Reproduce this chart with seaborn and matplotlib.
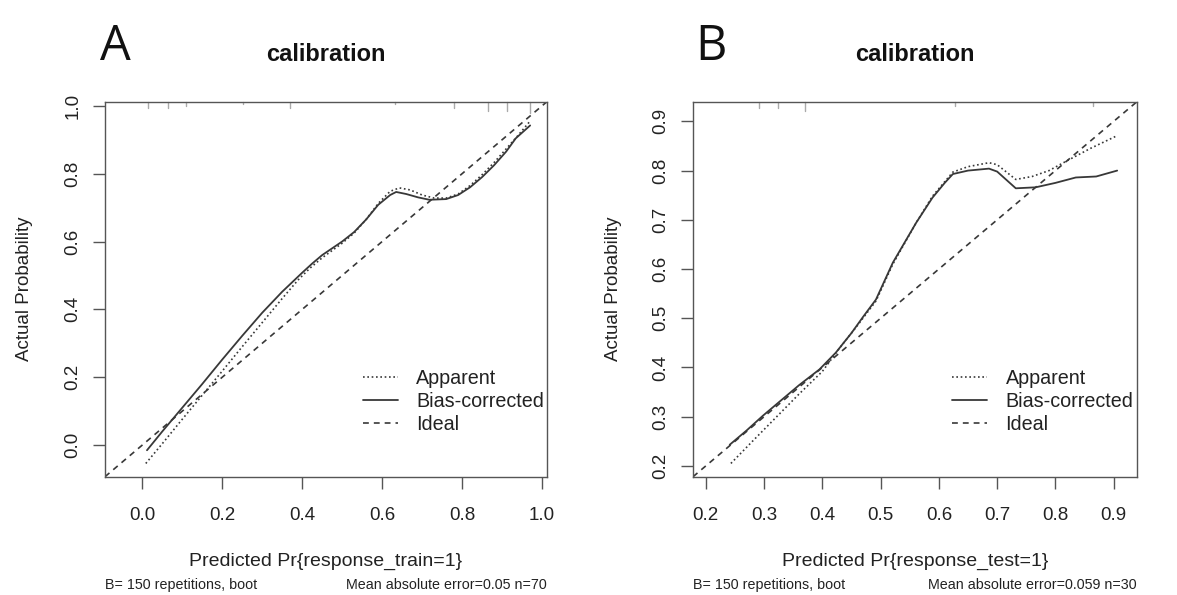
import numpy as np
import pandas as pd
import matplotlib
matplotlib.use("Agg")
import matplotlib.pyplot as plt
import seaborn as sns
from matplotlib.lines import Line2D

# ---------------- data ----------------
# Panel A (training set)
a_bias_x = [0.012, 0.05, 0.10, 0.15, 0.20, 0.25, 0.30, 0.35, 0.375, 0.40, 0.425, 0.45, 0.475, 0.50, 0.53,
            0.56, 0.59, 0.62, 0.635, 0.66, 0.69, 0.718, 0.76, 0.79, 0.82, 0.85, 0.88, 0.91, 0.934, 0.97]
a_bias_y = [-0.015, 0.04, 0.11, 0.18, 0.252, 0.322, 0.39, 0.452, 0.48, 0.508, 0.535, 0.56, 0.58, 0.60, 0.628,
            0.665, 0.708, 0.737, 0.746, 0.740, 0.730, 0.723, 0.725, 0.737, 0.760, 0.790, 0.825, 0.865, 0.904, 0.942]
a_app_x = [0.009, 0.05, 0.10, 0.15, 0.20, 0.25, 0.30, 0.35, 0.39, 0.42, 0.45, 0.50, 0.53, 0.56, 0.59, 0.62,
           0.643, 0.67, 0.70, 0.73, 0.76, 0.79, 0.82, 0.85, 0.88, 0.91, 0.94, 0.97]
a_app_y = [-0.054, 0.004, 0.076, 0.147, 0.218, 0.29, 0.361, 0.432, 0.487, 0.522, 0.552, 0.595, 0.625, 0.665,
           0.712, 0.748, 0.758, 0.752, 0.737, 0.728, 0.728, 0.740, 0.765, 0.797, 0.833, 0.873, 0.913, 0.955]
a_rug_x = [0.014, 0.064, 0.110, 0.253, 0.369, 0.633, 0.779, 0.864, 0.911, 0.969]
a_rug_n = [3, 3, 2, 1, 3, 1, 3, 4, 4, 5]
a_lim = (-0.093, 1.012)
a_ticks = [0.0, 0.2, 0.4, 0.6, 0.8, 1.0]
a_xlabel = "Predicted Pr{response_train=1}"
a_sub_left = "B= 150 repetitions, boot"
a_sub_right = "Mean absolute error=0.05 n=70"

# Panel B (test set)
b_bias_x = [0.241, 0.27, 0.298, 0.33, 0.36, 0.395, 0.423, 0.45, 0.47, 0.492, 0.521, 0.561, 0.589, 0.61,
            0.624, 0.65, 0.686, 0.70, 0.732, 0.766, 0.80, 0.835, 0.87, 0.906]
b_bias_y = [0.243, 0.272, 0.302, 0.334, 0.364, 0.396, 0.43, 0.47, 0.503, 0.538, 0.613, 0.694, 0.745, 0.775,
            0.793, 0.800, 0.804, 0.798, 0.764, 0.766, 0.775, 0.786, 0.788, 0.800]
b_app_x = [0.243, 0.28, 0.32, 0.36, 0.40, 0.43, 0.46, 0.492, 0.521, 0.561, 0.589, 0.624, 0.65, 0.686, 0.70,
           0.732, 0.76, 0.789, 0.82, 0.86, 0.906]
b_app_y = [0.205, 0.25, 0.298, 0.346, 0.392, 0.44, 0.485, 0.535, 0.61, 0.694, 0.748, 0.797, 0.808, 0.816,
           0.812, 0.782, 0.788, 0.80, 0.82, 0.845, 0.871]
b_rug_x = [0.291, 0.324, 0.370, 0.628, 0.864]
b_rug_n = [3, 3, 4, 2, 2]
b_lim = (0.178, 0.94)
b_ticks = [0.2, 0.3, 0.4, 0.5, 0.6, 0.7, 0.8, 0.9]
b_xlabel = "Predicted Pr{response_test=1}"
b_sub_left = "B= 150 repetitions, boot"
b_sub_right = "Mean absolute error=0.059 n=30"

panel_letters = ["A", "B"]
title = "calibration"
ylabel = "Actual Probability"
legend_labels = ["Apparent", "Bias-corrected", "Ideal"]

# ---------------- style ----------------
sns.set_theme(style="white")
plt.rcParams["font.family"] = ["Liberation Sans", "DejaVu Sans"]
plt.rcParams["axes.edgecolor"] = "#555555"
plt.rcParams["axes.linewidth"] = 1.0

LINE = "#383838"
DOT = (0, (1, 1.6))
DASH = (0, (3.5, 3))

fig = plt.figure(figsize=(11.77, 5.95), dpi=100)
ax_pos = [[0.0892, 0.1988, 0.3755, 0.6303], [0.5888, 0.1988, 0.3772, 0.6303]]

panels = [
    (a_bias_x, a_bias_y, a_app_x, a_app_y, a_rug_x, a_rug_n, a_lim, a_ticks, a_xlabel, a_sub_left, a_sub_right),
    (b_bias_x, b_bias_y, b_app_x, b_app_y, b_rug_x, b_rug_n, b_lim, b_ticks, b_xlabel, b_sub_left, b_sub_right),
]

for i, (bx, by, apx, apy, rx, rn, lim, ticks, xl, sl, sr) in enumerate(panels):
    ax = fig.add_axes(ax_pos[i])
    df_b = pd.DataFrame({"x": bx, "y": by})
    df_a = pd.DataFrame({"x": apx, "y": apy})
    sns.lineplot(data=df_a, x="x", y="y", ax=ax, color=LINE, linewidth=1.2, linestyle=DOT, errorbar=None)
    sns.lineplot(data=df_b, x="x", y="y", ax=ax, color=LINE, linewidth=1.3, errorbar=None)
    ax.axline((lim[0], lim[0]), slope=1, color=LINE, linewidth=1.2, linestyle=DASH)

    # rug of predictions at top
    trans = ax.get_xaxis_transform()
    for xv, nv in zip(rx, rn):
        ax.plot([xv, xv], [1.0, 1.0 - 0.006 * nv], transform=trans, color="#aaaaaa", linewidth=1.0,
                clip_on=False)

    ax.set_xlim(lim)
    ax.set_ylim(lim)
    ax.set_xticks(ticks)
    ax.set_yticks(ticks)
    ax.set_xticklabels([f"{t:.1f}" for t in ticks])
    ax.set_yticklabels([f"{t:.1f}" for t in ticks], rotation=90, va="center")
    ax.tick_params(axis="both", direction="out", length=8.6, width=1.0, color="#555555",
                   labelsize=13.5, labelcolor="#222222", left=True, bottom=True)
    ax.tick_params(axis="x", pad=13.5)
    ax.tick_params(axis="y", pad=8.5)
    for s in ax.spines.values():
        s.set_color("#555555")
        s.set_linewidth(1.0)

    ax.set_xlabel(xl, fontsize=14, color="#222222")
    ax.xaxis.label.set_va("center")
    ax.xaxis.set_label_coords(0.5, -0.2267)
    ax.set_ylabel(ylabel, fontsize=13.5, color="#222222")
    ax.yaxis.label.set_va("center")
    ax.yaxis.set_label_coords(-0.181 if i == 0 else -0.178, 0.5)

    ax.text(0.5, 1.1245, title, transform=ax.transAxes, ha="center", va="center",
            fontsize=17, fontweight="bold", color="#111111")
    ax.text(0.0, -0.2893, sl, transform=ax.transAxes, ha="left", va="center", fontsize=10.3, color="#222222")
    ax.text(1.0, -0.2893, sr, transform=ax.transAxes, ha="right", va="center", fontsize=10.3, color="#222222")

    handles = [Line2D([], [], color=LINE, linewidth=1.2, linestyle=DOT),
               Line2D([], [], color=LINE, linewidth=1.3),
               Line2D([], [], color=LINE, linewidth=1.2, linestyle=DASH)]
    ax.legend(handles, legend_labels, loc="upper left", bbox_to_anchor=(0.584, 0.287), frameon=False,
              fontsize=14.2, borderpad=0, borderaxespad=0, handlelength=1.75, handletextpad=0.95,
              labelspacing=0.2, labelcolor="#222222")

fig.text(100 / 1177, 1 - 60 / 595, panel_letters[0], ha="left", va="baseline", fontsize=35,
         family=["Open Sans", "DejaVu Sans"], color="#111111")
fig.text(695 / 1177, 1 - 60 / 595, panel_letters[1], ha="left", va="baseline", fontsize=35,
         family=["Open Sans", "DejaVu Sans"], color="#111111")

fig.savefig("out.png", dpi=100, facecolor="white")
